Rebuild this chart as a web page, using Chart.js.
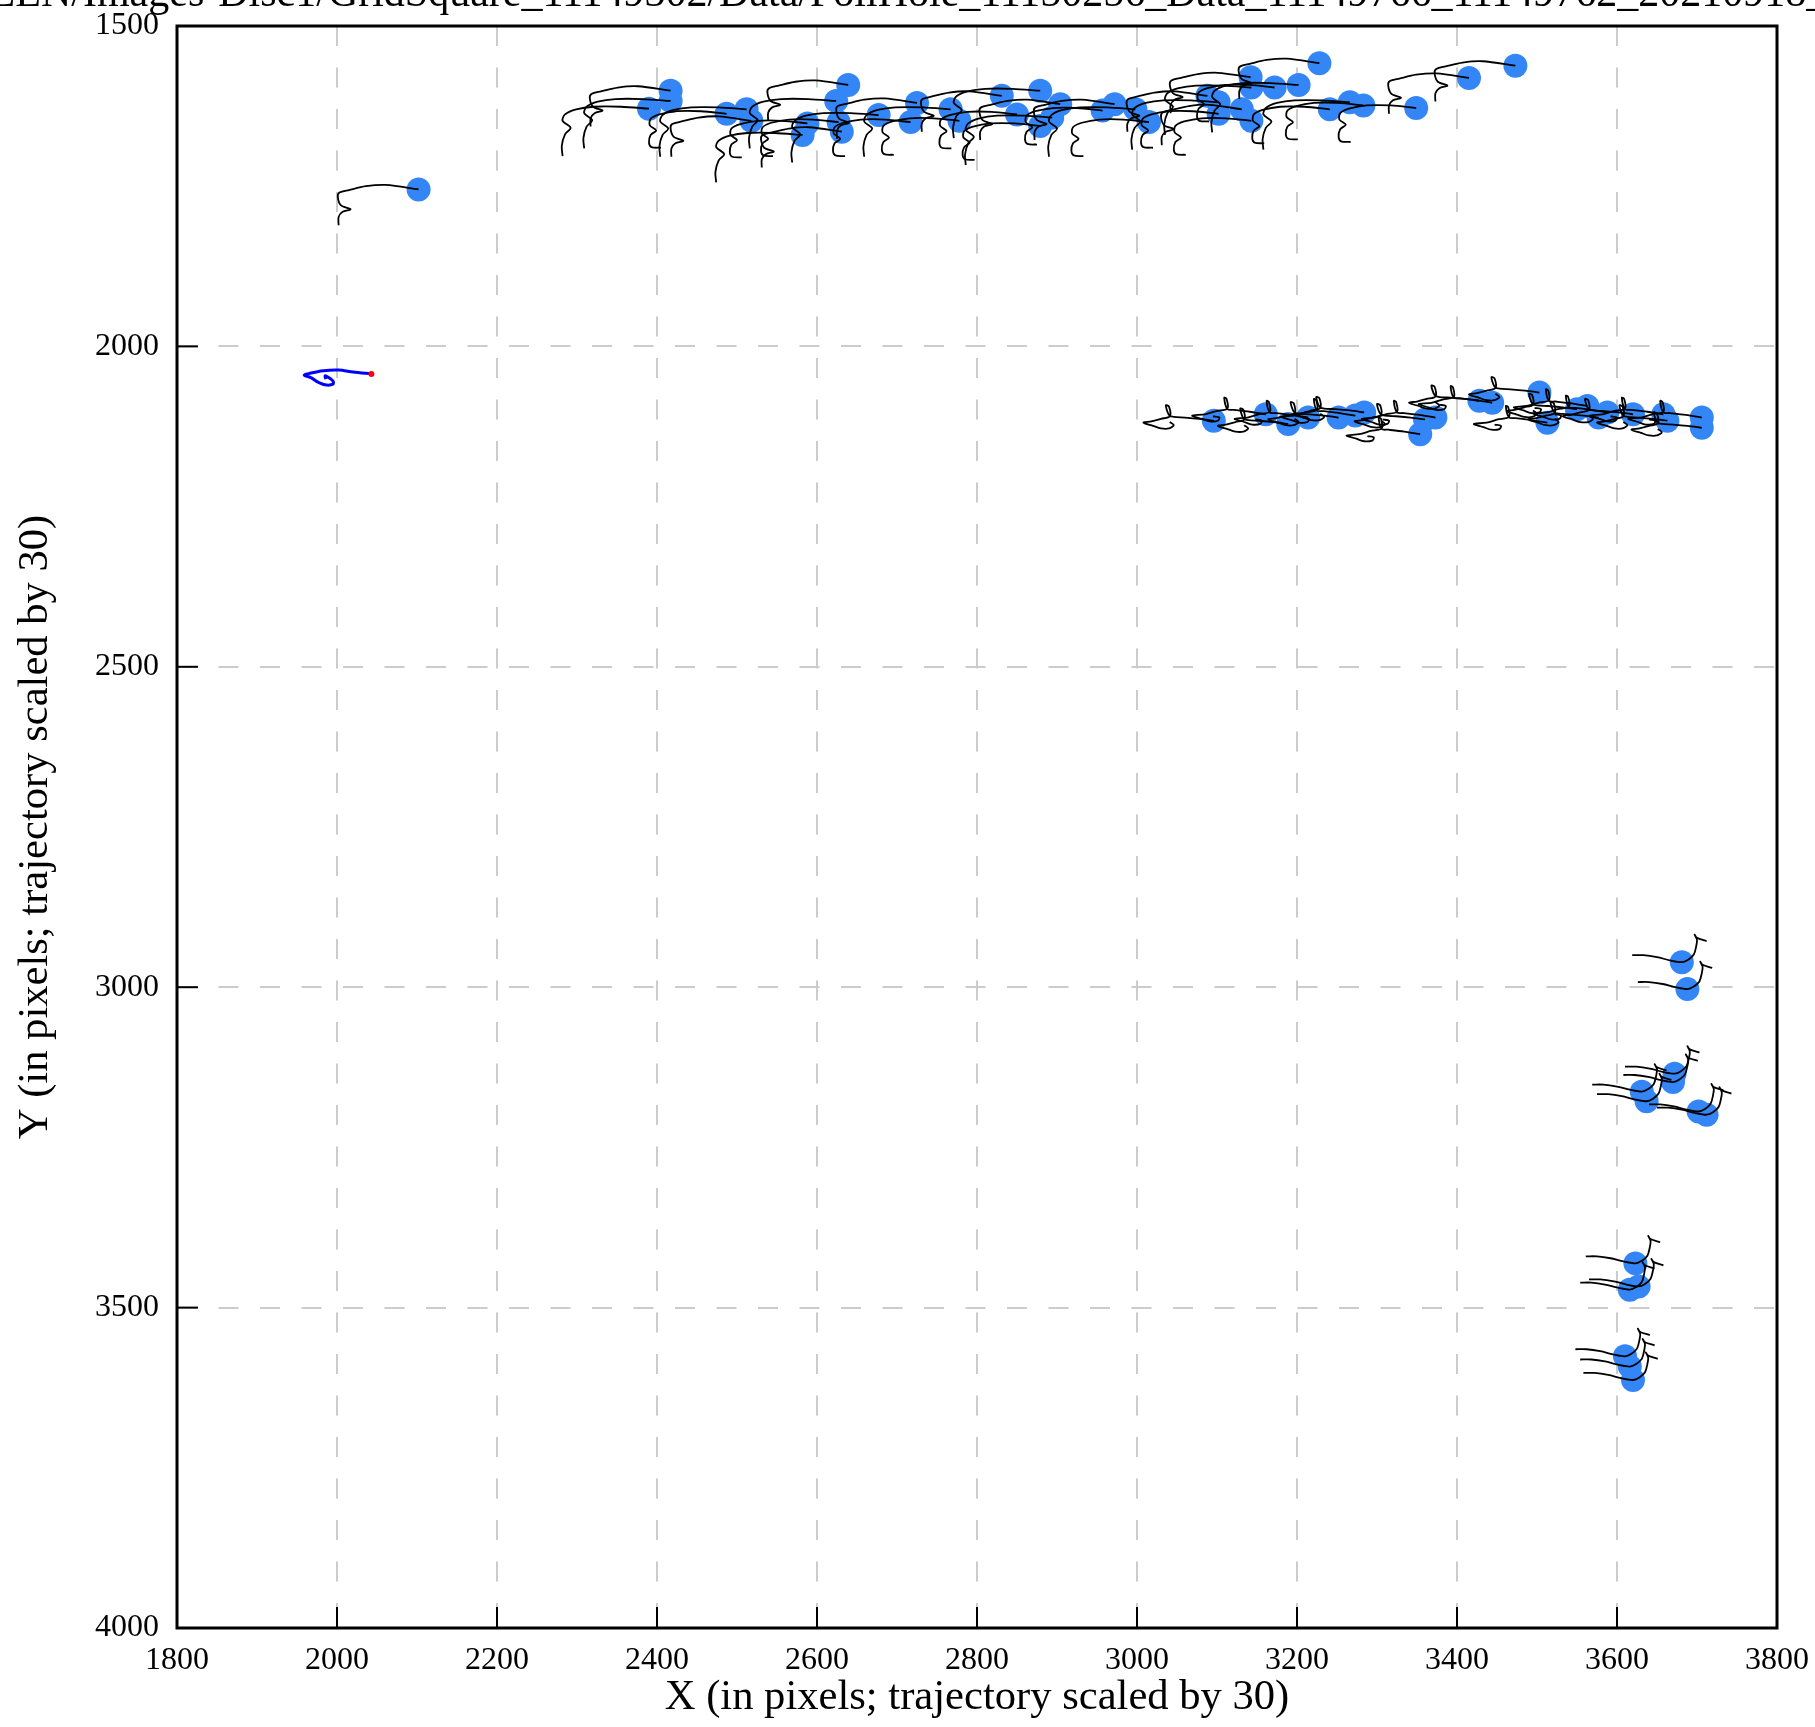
<!DOCTYPE html>
<html>
<head>
<meta charset="utf-8">
<script src="https://cdn.jsdelivr.net/npm/chart.js@4.4.1/dist/chart.umd.min.js"></script>
<style>
  html, body { margin: 0; padding: 0; background: #fff; }
  #wrap { width: 1815px; height: 1727px; }
</style>
</head>
<body>
<div id="wrap"><canvas id="motionChart" width="1815" height="1727"></canvas></div>
<script>
// Particle centres (pixels)
const particleX = [
  2102, 2390, 2417, 2417, 2487, 2512, 2518, 2582, 2588, 2639, 2624, 2627, 2631, 2677, 2725,
  2717, 2767, 2778, 2831, 2879, 2850, 2904, 2879, 2894, 2957, 2972, 2998, 3015, 3088, 3102,
  3102, 3131, 3143, 3142, 3143, 3172, 3202, 3228, 3241, 3266, 3283, 3349, 3415, 3473,
  3096, 3161, 3189, 3214, 3252, 3273, 3284, 3354, 3360, 3373, 3428, 3444, 3503, 3513, 3550,
  3563, 3577, 3588, 3620, 3658, 3663, 3706, 3706,
  3681, 3688, 3672, 3670, 3631, 3637, 3702, 3712, 3623, 3627, 3616, 3610, 3616, 3620
];
const particleY = [
  1755, 1629, 1601, 1617, 1637, 1630, 1648, 1670, 1652, 1592, 1617, 1650, 1665, 1639, 1620,
  1650, 1630, 1648, 1609, 1601, 1638, 1622, 1656, 1643, 1632, 1622, 1630, 1650, 1609, 1619,
  1637, 1630, 1648, 1580, 1596, 1596, 1592, 1558, 1630, 1619, 1624, 1628, 1581, 1562,
  2116, 2106, 2121, 2111, 2111, 2108, 2103, 2137, 2114, 2111, 2085, 2088, 2072, 2119, 2098,
  2093, 2111, 2103, 2106, 2106, 2116, 2111, 2127,
  2961, 3003, 3135, 3148, 3163, 3178, 3194, 3199, 3431, 3467, 3472, 3576, 3592, 3613
];
// which trajectory shape each particle follows (index into tracks)
const particleTrack = [
  0, 1, 0, 1, 2, 1, 0, 1, 2, 0, 1, 2, 0, 1, 0,
  2, 1, 2, 0, 1, 2, 0, 2, 1, 2, 0, 1, 2, 0, 1,
  2, 0, 2, 0, 1, 2, 1, 0, 2, 1, 2, 2, 0, 0,
  3, 5, 3, 5, 3, 5, 3, 5, 3, 5, 3, 5, 3, 5, 3,
  5, 3, 5, 3, 5, 3, 5, 3,
  4, 4, 4, 4, 4, 4, 4, 4, 4, 4, 4, 4, 4, 4
];

// Local trajectories (x30), offsets from the particle centre
const trackTopA = [[0,0],[-41,-7],[-66,-5],[-87,1],[-99,5],[-101,12],[-97,25],[-85,31],[-95,35],[-100,43],[-100,56]];
const trackTopB = [[0,0],[-35,-3],[-69,-3],[-91,1],[-105,9],[-108,19],[-98,30],[-105,40],[-109,58],[-108,74]];
const trackTopC = [[0,0],[-32,-4],[-62,-4],[-84,1],[-95,8],[-96,18],[-88,26],[-95,33],[-97,45],[-94,52],[-82,53]];
const trackMidA = [[0,0],[-18,-3],[-36,-5],[-50,-6],[-56,-9],[-60,-24],[-56,-22],[-55,-7],[-66,-3],[-78,1],[-88,3],[-76,8],[-66,12],[-56,12],[-50,7],[-55,2]];
const trackMidB = [[0,0],[-20,-4],[-40,-7],[-48,-8],[-52,-26],[-49,-24],[-48,-9],[-62,-5],[-76,0],[-92,2],[-80,7],[-70,11],[-60,10],[-58,5],[-66,3]];
const trackLow  = [[-62,-11],[-48,-11],[-31,-8],[-15,-3],[0,0],[8,-4],[15,-12],[18,-25],[19,-35],[16,-43],[19,-38],[31,-33]];
const tracks = [trackTopA, trackTopB, trackTopC, trackMidA, trackLow, trackMidB];

// Global drift trajectory (blue) with its start point (red)
const driftX = [2043, 2020, 2002, 1983, 1966, 1959, 1968, 1975, 1985, 1995, 1995, 1989, 1985, 1986];
const driftY = [2043, 2040, 2037, 2038, 2042, 2045, 2049, 2055, 2060, 2059, 2054, 2048, 2046, 2051];

const xTicks = [1800, 2000, 2200, 2400, 2600, 2800, 3000, 3200, 3400, 3600, 3800];
const yTicks = [1500, 2000, 2500, 3000, 3500, 4000];

const titleText = 'ZEN/Images-Disc1/GridSquare_11149302/Data/FoilHole_11150256_Data_11149766_11149762_20210918_113526_fractions';
const serif = "'Liberation Serif', 'Times New Roman', serif";

// Build datasets
const datasets = [];

datasets.push({
  label: 'drift start',
  data: [{ x: driftX[0], y: driftY[0] }],
  backgroundColor: '#ff0000',
  pointRadius: 3,
  borderWidth: 0,
  order: 0
});

datasets.push({
  label: 'drift',
  data: driftX.map((x, i) => ({ x: x, y: driftY[i] })),
  showLine: true,
  borderColor: '#0000ff',
  borderWidth: 3,
  pointRadius: 0,
  tension: 0.3,
  order: 1
});

particleX.forEach((px, i) => {
  const shape = tracks[particleTrack[i]];
  datasets.push({
    label: 'track ' + i,
    data: shape.map(p => ({ x: px + p[0], y: particleY[i] + p[1] })),
    showLine: true,
    borderColor: '#000000',
    borderWidth: 1.8,
    pointRadius: 0,
    tension: 0.3,
    order: 2
  });
});

datasets.push({
  label: 'particles',
  data: particleX.map((x, i) => ({ x: x, y: particleY[i] })),
  backgroundColor: '#3486f6',
  pointRadius: 12,
  borderWidth: 0,
  order: 3
});

// Frame, inward ticks and the (clipped) title
const framePlugin = {
  id: 'frame',
  afterDraw(chart) {
    const ctx = chart.ctx;
    const area = chart.chartArea;
    const xs = chart.scales.x;
    const ys = chart.scales.y;
    ctx.save();
    ctx.strokeStyle = '#000';
    ctx.lineWidth = 2;
    xTicks.forEach(v => {
      const px = xs.getPixelForValue(v);
      ctx.beginPath();
      ctx.moveTo(px, area.bottom);
      ctx.lineTo(px, area.bottom - 21);
      ctx.stroke();
    });
    yTicks.forEach(v => {
      const py = ys.getPixelForValue(v);
      ctx.beginPath();
      ctx.moveTo(area.left, py);
      ctx.lineTo(area.left + 21, py);
      ctx.stroke();
    });
    ctx.lineWidth = 3;
    ctx.strokeRect(area.left, area.top, area.right - area.left, area.bottom - area.top);

    ctx.font = '42px ' + serif;
    ctx.fillStyle = '#000';
    ctx.textBaseline = 'alphabetic';
    ctx.textAlign = 'left';
    const lead = ctx.measureText('ZEN/Images-Disc1/GridSquare').width + ctx.measureText('_').width / 2;
    ctx.fillText(titleText, 532 - lead, 6);
    ctx.restore();
  }
};

// keep the plot box fixed: no extra room for the end labels
function fixPadding(scale) {
  scale.paddingTop = 0;
  scale.paddingBottom = 0;
  scale.paddingLeft = 0;
  scale.paddingRight = 0;
}

new Chart(document.getElementById('motionChart'), {
  type: 'scatter',
  data: { datasets: datasets },
  options: {
    responsive: false,
    animation: false,
    devicePixelRatio: 1,
    layout: { padding: { top: 26, right: 38, left: 0, bottom: 0 } },
    plugins: {
      legend: { display: false },
      tooltip: { enabled: false },
      title: { display: false }
    },
    scales: {
      x: {
        type: 'linear',
        position: 'bottom',
        min: 1800,
        max: 3800,
        afterBuildTicks: scale => { scale.ticks = xTicks.map(v => ({ value: v })); },
        afterFit: scale => { scale.height = 99; fixPadding(scale); },
        grid: { color: '#cccccc', lineWidth: 2, drawTicks: false },
        border: { display: false, dash: [20, 21.5] },
        ticks: {
          color: '#000',
          padding: 13,
          maxRotation: 0,
          font: { family: serif, size: 32 },
          callback: v => String(v)
        },
        title: {
          display: true,
          text: 'X (in pixels; trajectory scaled by 30)',
          color: '#000',
          font: { family: serif, size: 42.6 },
          padding: { top: 0, bottom: 4 }
        }
      },
      y: {
        type: 'linear',
        position: 'left',
        reverse: true,
        min: 1500,
        max: 4000,
        afterBuildTicks: scale => { scale.ticks = yTicks.map(v => ({ value: v })); },
        afterFit: scale => { scale.width = 177; fixPadding(scale); },
        grid: { color: '#cccccc', lineWidth: 2, drawTicks: false },
        border: { display: false, dash: [20, 21.5] },
        ticks: {
          color: '#000',
          padding: 18,
          font: { family: serif, size: 32 },
          callback: v => String(v)
        },
        title: {
          display: true,
          text: 'Y (in pixels; trajectory scaled by 30)',
          color: '#000',
          font: { family: serif, size: 42.6 },
          padding: { top: 10, bottom: 0 }
        }
      }
    }
  },
  plugins: [framePlugin]
});
</script>
</body>
</html>
